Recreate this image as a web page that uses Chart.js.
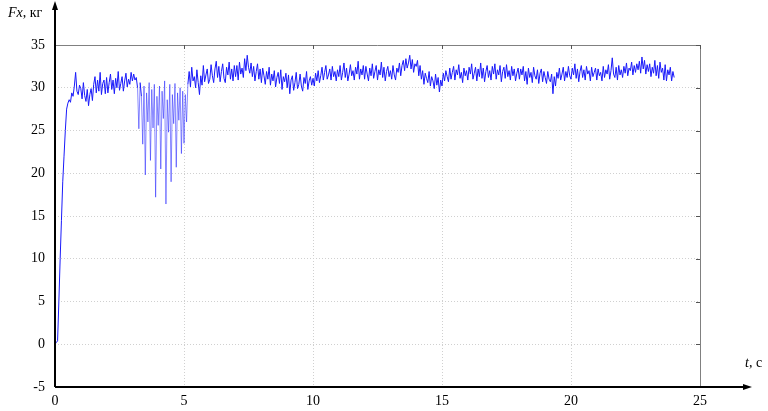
<!DOCTYPE html>
<html lang="ru">
<head>
    <meta charset="UTF-8">
    <title>Fx(t)</title>
    <script src="https://cdn.jsdelivr.net/npm/chart.js"></script>
    <style>
        html, body { margin: 0; padding: 0; background: #fff; }
        .wrap { width: 768px; height: 411px; position: relative; }
    </style>
</head>
<body>
    <div class="wrap">
        <canvas id="fxChart" width="768" height="411"></canvas>
    </div>

    <script>
        // шаг выборки, с
        const dt = 0.05;
        // усилие Fx, кг (t = 0 ... 24 с, по 1 с в строке)
        const fx = [
            0, 0.2, 0.4, 5, 10, 14.5, 19, 22, 25, 27.5, 28.2, 28.6, 28.3, 29.4, 29.0, 30.2, 31.8, 29.6, 29.2, 30.3,
            29.9, 28.7, 30.6, 29.1, 28.4, 29.8, 27.9, 29.2, 29.9, 28.5, 30.4, 31.3, 29.4, 30.9, 29.6, 31.8, 29.2, 30.5, 30.9, 29.3,
            31.2, 29.4, 30.6, 31.6, 29.8, 30.9, 29.3, 31.1, 30.0, 31.9, 29.7, 30.5, 31.3, 29.6, 30.8, 31.7, 30.1, 31.0, 30.4, 31.8,
            30.8, 31.6, 30.9, 31.2, 30.0, 25.2, 30.6, 29.0, 23.4, 30.2, 19.8, 29.4, 26.0, 30.6, 21.5, 29.8, 25.3, 30.4, 17.2, 29.0,
            25.6, 30.2, 20.5, 29.6, 26.4, 30.8, 16.4, 28.6, 24.8, 30.4, 19.0, 29.2, 25.8, 30.5, 20.7, 29.4, 26.2, 30.0, 22.3, 29.6,
            23.5, 29.2, 26.0, 30.4, 31.9, 30.1, 32.4, 30.8, 31.3, 30.0, 32.1, 30.6, 29.2, 31.4, 30.3, 32.6, 30.7, 31.5, 32.2, 30.5,
            31.0, 32.7, 31.4, 30.6, 32.2, 33.1, 31.2, 32.5, 30.7, 31.9, 32.8, 31.1, 30.6, 32.4, 31.5, 33.0, 31.0, 32.2, 30.8, 32.6,
            31.3, 32.6, 30.9, 33.0, 31.6, 32.3, 31.2, 33.4, 32.0, 33.8, 32.4, 31.7, 32.9, 31.3, 32.5, 30.8, 31.9, 32.8, 31.0, 32.2,
            30.6, 32.3, 31.4, 30.4, 31.9, 31.0, 32.4, 30.3, 31.6, 30.8, 32.0, 30.1, 31.2, 31.8, 30.5, 32.1, 29.8, 31.3, 30.7, 31.7,
            30.0, 31.5, 29.3, 30.9, 31.4, 29.7, 30.6, 31.8, 29.9, 30.4, 31.6, 30.2, 29.6, 31.2, 30.5, 31.9, 29.8, 30.8, 31.3, 30.3,
            31.1, 30.2, 31.7, 30.8, 32.0, 30.6, 31.4, 32.4, 30.9, 31.8, 32.6, 31.0, 31.5, 32.2, 30.9, 32.5, 31.3, 31.9, 30.8, 32.1,
            31.3, 32.6, 30.9, 31.8, 32.9, 31.2, 32.3, 30.8, 31.6, 32.7, 31.4, 32.0, 30.9, 32.4, 31.6, 33.1, 31.0, 32.2, 31.5, 32.6,
            31.0, 32.5, 31.6, 30.8, 32.3, 31.4, 32.8, 31.1, 31.9, 32.6, 30.9, 32.1, 31.5, 33.0, 31.2, 32.4, 30.8, 31.9, 32.5, 31.3,
            32.0, 31.0, 32.6, 31.5, 30.9, 32.3, 31.8, 32.9, 31.4, 32.6, 33.2, 32.0, 33.4, 32.3, 32.9, 33.8, 32.2, 33.3, 31.8, 32.8,
            32.5, 33.2, 31.4, 32.6, 31.0, 32.0, 30.4, 31.7, 31.1, 30.6, 31.9, 30.2, 31.3, 30.8, 29.9, 31.6, 30.3, 31.2, 29.5, 30.9,
            30.2, 31.7, 30.8, 32.0, 31.3, 30.7, 32.3, 31.0, 31.8, 32.5, 30.9, 32.1, 31.5, 32.7, 31.1, 31.8, 30.6, 32.3, 31.4, 32.0,
            30.9, 32.4, 31.6, 32.8, 31.0, 31.7, 32.4, 30.8, 32.2, 31.3, 32.9, 31.1, 32.3, 30.7, 31.9, 32.6, 31.2, 32.0, 30.9, 32.5,
            31.6, 32.8, 31.0, 32.1, 31.5, 32.6, 30.7, 31.9, 32.4, 31.1, 32.7, 31.3, 32.0, 30.9, 32.5, 31.4, 32.2, 30.8, 31.7, 32.3,
            31.0, 32.2, 31.5, 32.5, 30.8, 31.9, 30.4, 32.3, 31.2, 31.8, 30.6, 32.4, 31.4, 31.0, 32.1, 30.5, 31.7, 32.2, 30.7, 31.9,
            31.2, 30.5, 31.9, 31.0, 30.7, 31.6, 29.3, 31.3, 30.2, 31.8, 31.1, 32.3, 30.9, 31.6, 32.4, 30.8, 31.9, 31.2, 32.5, 31.4,
            31.0, 32.3, 31.5, 32.8, 31.1, 32.2, 30.7, 31.9, 32.6, 31.2, 32.1, 30.9, 32.5, 31.6, 32.0, 30.8, 32.4, 31.3, 31.8, 32.3,
            30.9, 32.2, 31.4, 31.8, 30.8, 32.5, 31.2, 32.1, 31.6, 32.7, 31.0, 32.0, 33.5, 31.6, 31.2, 32.4, 30.9, 32.6, 31.5, 32.1,
            31.2, 32.5, 31.7, 32.9, 31.4, 32.3, 32.0, 33.0, 31.5, 32.6, 31.8, 32.8, 32.1, 33.1, 31.7, 33.6, 32.2, 33.2, 31.6, 32.7,
            31.9, 32.8, 31.3, 32.4, 31.7, 33.2, 31.4, 32.6, 31.1, 33.0, 31.8, 32.3, 30.9, 32.7, 30.8, 32.1, 31.5, 32.4, 30.8, 31.9,
            31.2
        ];
        const xTicks = [0, 5, 10, 15, 20, 25];
        const yTicks = [-5, 0, 5, 10, 15, 20, 25, 30, 35];

        const points = fx.map((v, i) => ({ x: +(i * dt).toFixed(2), y: v }));
        const serif = "'Liberation Serif', 'DejaVu Serif', serif";

        // оси со стрелками, рамка и подписи осей
        const axesPlugin = {
            id: 'axes',
            afterDraw(chart) {
                const ctx = chart.ctx;
                const a = chart.chartArea;
                const xs = chart.scales.x, ys = chart.scales.y;
                ctx.save();

                // рамка сверху и справа
                ctx.strokeStyle = '#808080';
                ctx.lineWidth = 1;
                ctx.beginPath();
                ctx.moveTo(a.left, a.top + 0.5);
                ctx.lineTo(a.right + 0.5, a.top + 0.5);
                ctx.lineTo(a.right + 0.5, a.bottom);
                ctx.stroke();

                // короткие засечки на рамке
                ctx.strokeStyle = '#555';
                ctx.beginPath();
                xTicks.forEach(t => {
                    const px = Math.round(xs.getPixelForValue(t)) + 0.5;
                    ctx.moveTo(px, a.top);
                    ctx.lineTo(px, a.top + 4);
                });
                yTicks.forEach(t => {
                    const py = Math.round(ys.getPixelForValue(t)) + 0.5;
                    ctx.moveTo(a.right, py);
                    ctx.lineTo(a.right - 4, py);
                });
                ctx.stroke();

                // оси
                ctx.strokeStyle = '#000';
                ctx.fillStyle = '#000';
                ctx.lineWidth = 2;
                ctx.beginPath();
                ctx.moveTo(a.left, a.bottom);
                ctx.lineTo(a.left, 8);
                ctx.moveTo(a.left, a.bottom);
                ctx.lineTo(745, a.bottom);
                ctx.stroke();

                ctx.beginPath();
                ctx.moveTo(a.left, 1);
                ctx.lineTo(a.left - 3, 10);
                ctx.lineTo(a.left + 3, 10);
                ctx.closePath();
                ctx.fill();
                ctx.beginPath();
                ctx.moveTo(752, a.bottom);
                ctx.lineTo(743, a.bottom - 3);
                ctx.lineTo(743, a.bottom + 3);
                ctx.closePath();
                ctx.fill();

                // подписи осей
                ctx.textBaseline = 'alphabetic';
                ctx.textAlign = 'left';
                ctx.font = 'italic 14px ' + serif;
                ctx.fillText('Fx', 8, 17);
                let w = ctx.measureText('Fx').width;
                ctx.font = '14px ' + serif;
                ctx.fillText(', кг', 8 + w, 17);

                ctx.font = 'italic 14px ' + serif;
                ctx.fillText('t', 745, 367);
                w = ctx.measureText('t').width;
                ctx.font = '14px ' + serif;
                ctx.fillText(', c', 745 + w, 367);

                ctx.restore();
            }
        };

        const ctx = document.getElementById('fxChart').getContext('2d');
        new Chart(ctx, {
            type: 'scatter',
            data: {
                datasets: [{
                    data: points,
                    showLine: true,
                    borderColor: 'rgb(25, 25, 250)',
                    borderWidth: 1,
                    pointRadius: 0,
                    tension: 0,
                    // провалы при 3...5 с на оригинале бледнее
                    segment: {
                        borderColor: c => (c.p0.parsed.x > 3 && c.p1.parsed.x < 5.2 &&
                            Math.min(c.p0.parsed.y, c.p1.parsed.y) < 28) ? 'rgba(40, 40, 255, 0.55)' : undefined
                    }
                }]
            },
            options: {
                responsive: false,
                animation: false,
                layout: { padding: { top: 45, right: 68, left: 0, bottom: 0 } },
                plugins: {
                    legend: { display: false },
                    tooltip: { enabled: false }
                },
                scales: {
                    x: {
                        type: 'linear',
                        min: 0,
                        max: 25,
                        afterFit(scale) { scale.height = 24; },
                        afterBuildTicks(scale) { scale.ticks = xTicks.map(v => ({ value: v })); },
                        ticks: {
                            color: '#000',
                            padding: 6,
                            font: { family: serif, size: 14 }
                        },
                        grid: { color: '#d0d0d0', drawTicks: false },
                        border: { display: false, dash: [1, 2] }
                    },
                    y: {
                        min: -5,
                        max: 35,
                        afterFit(scale) { scale.width = 55; },
                        afterBuildTicks(scale) { scale.ticks = yTicks.map(v => ({ value: v })); },
                        ticks: {
                            color: '#000',
                            padding: 10,
                            font: { family: serif, size: 14 }
                        },
                        grid: { color: '#d0d0d0', drawTicks: false },
                        border: { display: false, dash: [1, 2] }
                    }
                }
            },
            plugins: [axesPlugin]
        });
    </script>
</body>
</html>
